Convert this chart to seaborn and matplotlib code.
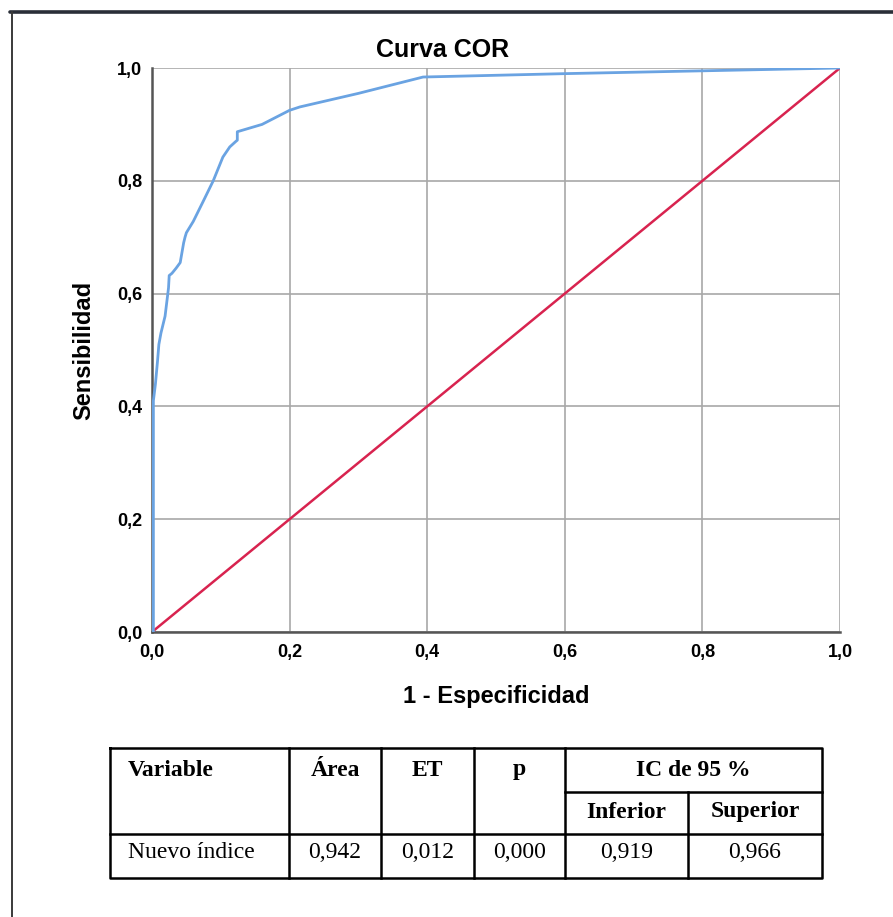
import matplotlib
matplotlib.use("Agg")
import matplotlib.pyplot as plt
import pandas as pd
import seaborn as sns

# ROC curve
fpr = [0.000, 0.002, 0.002, 0.005, 0.008, 0.010, 0.013, 0.016, 0.019, 0.022, 0.024,
       0.025, 0.029, 0.035, 0.041, 0.046, 0.048, 0.050, 0.060, 0.075, 0.089, 0.103,
       0.113, 0.122, 0.124, 0.124, 0.160, 0.200, 0.215, 0.300, 0.394, 0.600, 0.800, 1.000]
tpr = [0.000, 0.000, 0.410, 0.440, 0.480, 0.510, 0.530, 0.545, 0.560, 0.590, 0.610,
       0.632, 0.636, 0.645, 0.655, 0.690, 0.700, 0.708, 0.728, 0.765, 0.800, 0.842,
       0.860, 0.870, 0.872, 0.887, 0.900, 0.925, 0.931, 0.955, 0.984, 0.990, 0.995, 1.000]
ref_x = [0.0, 1.0]
ref_y = [0.0, 1.0]
ticks = [0.0, 0.2, 0.4, 0.6, 0.8, 1.0]

# results table
header = ["Variable", "Área", "ET", "p"]
ci_header = "IC de 95 %"
ci_sub = ["Inferior", "Superior"]
row_label = "Nuevo índice"
row_values = ["0,942", "0,012", "0,000", "0,919", "0,966"]

sns.set_theme(style="whitegrid")
plt.rcParams['font.family'] = ['Liberation Sans', 'DejaVu Sans']
plt.rcParams['text.color'] = 'black'
plt.rcParams['axes.labelcolor'] = 'black'
plt.rcParams['xtick.color'] = 'black'
plt.rcParams['ytick.color'] = 'black'

fig = plt.figure(figsize=(8.93, 9.17), dpi=100)
ax = fig.add_axes([152 / 893, 1 - 632 / 917, 688 / 893, 564 / 917])

roc = pd.DataFrame({"fpr": fpr, "tpr": tpr})
diag = pd.DataFrame({"x": ref_x, "y": ref_y})
sns.lineplot(data=diag, x="x", y="y", ax=ax, color="#d8234f", lw=1.8,
             sort=False, estimator=None, zorder=3)
sns.lineplot(data=roc, x="fpr", y="tpr", ax=ax, color="#6aa3e2", lw=2.0,
             sort=False, estimator=None, zorder=4)

ax.set_xlim(0, 1)
ax.set_ylim(0, 1)
ax.set_xticks(ticks)
ax.set_yticks(ticks)
lab = [f"{t:.1f}".replace(".", ",") for t in ticks]
ax.set_xticklabels(lab, fontweight="bold", fontsize=13)
ax.set_yticklabels(lab, fontweight="bold", fontsize=13)
ax.grid(True, color="#a8a8a8", lw=1.2)
for s in ["top", "right"]:
    ax.spines[s].set_visible(False)
for s in ["left", "bottom"]:
    ax.spines[s].set_color("#555555")
    ax.spines[s].set_linewidth(1.8)
ax.tick_params(axis="x", length=0, pad=9)
ax.tick_params(axis="y", length=0, pad=7)
ax.set_xlabel("1 - Especificidad", fontweight="bold", fontsize=17, labelpad=17)
ax.set_ylabel("Sensibilidad", fontweight="bold", fontsize=17, labelpad=16)
ax.set_title("Curva COR", fontweight="bold", fontsize=18, pad=8, x=0.423)

# overlay in pixel units for the frame and table
ov = fig.add_axes([0, 0, 1, 1], zorder=-1)
ov.set_xlim(0, 893)
ov.set_ylim(917, 0)
ov.axis("off")
ov.plot([10, 893], [12, 12], color="#2a2e38", lw=2.6)
ov.plot([12, 12], [12, 917], color="#3a3a3a", lw=1.4)

tb = fig.add_axes([0, 0, 1, 1], zorder=2)
tb.set_xlim(0, 893)
tb.set_ylim(917, 0)
tb.axis("off")
L, R, T, B = 110, 822, 748, 878
cols = [289, 381, 474, 565, 688]
mid, rowline = 792, 834
lk = dict(color="black", lw=1.8, solid_capstyle="projecting")
tb.plot([L, R, R, L, L], [T, T, B, B, T], **lk)
for c in cols[:4]:
    tb.plot([c, c], [T, B], **lk)
tb.plot([cols[4], cols[4]], [mid, B], **lk)
tb.plot([cols[3], R], [mid, mid], **lk)
tb.plot([L, R], [rowline, rowline], **lk)

serif = ['Liberation Serif', 'DejaVu Serif']
fs = 17
ya, yb, yc = 770, 812, 853
tb.text(L + 18, ya, header[0], family=serif, fontweight="bold", fontsize=fs,
        ha="left", va="center")
edges = [L] + cols + [R]
for i in range(1, 4):
    tb.text((edges[i] + edges[i + 1]) / 2, ya, header[i], family=serif,
            fontweight="bold", fontsize=fs, ha="center", va="center")
tb.text((cols[3] + R) / 2, ya, ci_header, family=serif, fontweight="bold",
        fontsize=fs, ha="center", va="center")
tb.text((cols[3] + cols[4]) / 2, yb, ci_sub[0], family=serif, fontweight="bold",
        fontsize=fs, ha="center", va="center")
tb.text((cols[4] + R) / 2, yb, ci_sub[1], family=serif, fontweight="bold",
        fontsize=fs, ha="center", va="center")
tb.text(L + 18, yc, row_label, family=serif, fontsize=fs, ha="left", va="center")
for i, v in enumerate(row_values):
    tb.text((edges[i + 1] + edges[i + 2]) / 2, yc, v, family=serif, fontsize=fs,
            ha="center", va="center")

fig.savefig("out.png", dpi=100, facecolor="white")
